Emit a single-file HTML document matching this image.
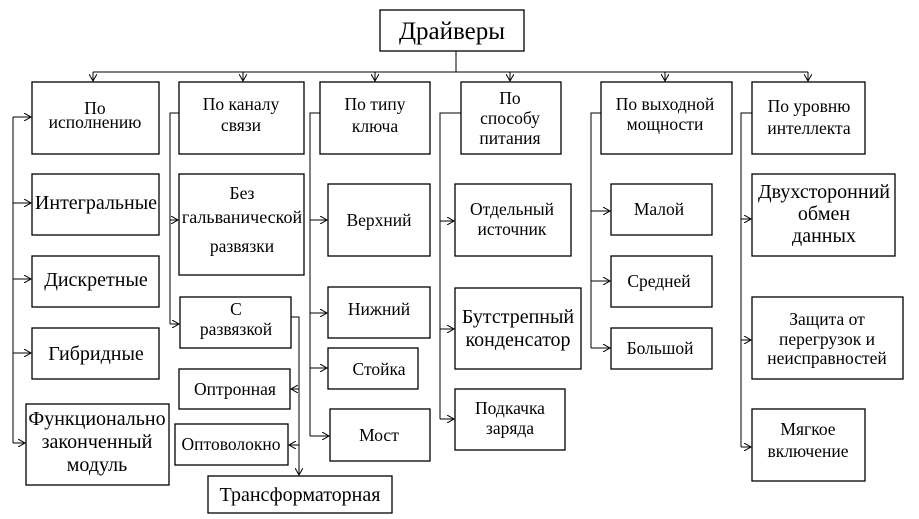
<!DOCTYPE html>
<html><head><meta charset="utf-8"><style>
html,body{margin:0;padding:0;background:#fff;}
svg{display:block;}
text{font-family:"Liberation Serif","DejaVu Serif",serif;fill:#000;text-anchor:middle;}
</style></head><body>
<svg width="919" height="519" viewBox="0 0 919 519" xmlns="http://www.w3.org/2000/svg">
<defs><marker id="a" markerWidth="8" markerHeight="8" refX="7" refY="4" orient="auto" markerUnits="userSpaceOnUse"><path d="M0,0 L7,4 L0,8" fill="none" stroke="#000" stroke-width="1"/></marker></defs>
<g fill="none" stroke="#000" stroke-width="1.3">
<rect x="380" y="10" width="144" height="41"/>
<rect x="32" y="82" width="127" height="72"/>
<rect x="179" y="82" width="125" height="72"/>
<rect x="320" y="82" width="110" height="72"/>
<rect x="461" y="82" width="100" height="72"/>
<rect x="601" y="82" width="131" height="72"/>
<rect x="752" y="82" width="113" height="72"/>
<rect x="32" y="174" width="127" height="61"/>
<rect x="32" y="256" width="127" height="51"/>
<rect x="32" y="328" width="127" height="51"/>
<rect x="26" y="404" width="143" height="81"/>
<rect x="179" y="174" width="125" height="101"/>
<rect x="180" y="297" width="111" height="51"/>
<rect x="179" y="369" width="111" height="40"/>
<rect x="175" y="424" width="113" height="41"/>
<rect x="208" y="476" width="184" height="37"/>
<rect x="328" y="184" width="102" height="72"/>
<rect x="328" y="287" width="102" height="51"/>
<rect x="328" y="348" width="90" height="41"/>
<rect x="330" y="409" width="100" height="52"/>
<rect x="455" y="184" width="116" height="72"/>
<rect x="455" y="288" width="126" height="81"/>
<rect x="455" y="389" width="110" height="61"/>
<rect x="611" y="184" width="101" height="51"/>
<rect x="611" y="256" width="101" height="51"/>
<rect x="611" y="328" width="101" height="41"/>
<rect x="752" y="174" width="143" height="82"/>
<rect x="752" y="297" width="151" height="82"/>
<rect x="752" y="409" width="113" height="72"/>
</g>
<g fill="none" stroke="#000" stroke-width="1">
<path d="M456,51 V72 M93,72 H808"/>
<path d="M93,72 V81" marker-end="url(#a)"/><path d="M243,72 V81" marker-end="url(#a)"/><path d="M375,72 V81" marker-end="url(#a)"/><path d="M510,72 V81" marker-end="url(#a)"/><path d="M665,72 V81" marker-end="url(#a)"/><path d="M808,72 V81" marker-end="url(#a)"/>
<path d="M13,117 V443"/>
<path d="M13,117 H31" marker-end="url(#a)"/><path d="M13,203 H31" marker-end="url(#a)"/><path d="M13,279 H31" marker-end="url(#a)"/><path d="M13,353 H31" marker-end="url(#a)"/><path d="M13,443 H25" marker-end="url(#a)"/>
<path d="M179,113 H170 V324"/>
<path d="M170,220 H178" marker-end="url(#a)"/><path d="M170,324 H179" marker-end="url(#a)"/>
<path d="M291,317 H299 V475" marker-end="url(#a)"/>
<path d="M299,389 H291" marker-end="url(#a)"/><path d="M299,445 H289" marker-end="url(#a)"/>
<path d="M320,113 H310 V436"/>
<path d="M310,220 H327" marker-end="url(#a)"/><path d="M310,313 H327" marker-end="url(#a)"/><path d="M310,368 H327" marker-end="url(#a)"/><path d="M310,436 H329" marker-end="url(#a)"/>
<path d="M461,113 H440 V419"/>
<path d="M440,221 H454" marker-end="url(#a)"/><path d="M440,329 H454" marker-end="url(#a)"/><path d="M440,419 H454" marker-end="url(#a)"/>
<path d="M601,113 H591 V348"/>
<path d="M591,211 H610" marker-end="url(#a)"/><path d="M591,281 H610" marker-end="url(#a)"/><path d="M591,348 H610" marker-end="url(#a)"/>
<path d="M752,113 H741 V447"/>
<path d="M741,219 H751" marker-end="url(#a)"/><path d="M741,340 H751" marker-end="url(#a)"/><path d="M741,447 H751" marker-end="url(#a)"/>
</g>
<text x="452" y="39" font-size="25">Драйверы</text>
<g font-size="17.5">
<text x="95" y="114">По</text><text x="95" y="128">исполнению</text>
<text x="241" y="110">По каналу</text><text x="241" y="131">связи</text>
<text x="375" y="110">По типу</text><text x="375" y="132">ключа</text>
<text x="510" y="104">По</text><text x="510" y="124">способу</text><text x="510" y="144">питания</text>
<text x="665" y="110">По выходной</text><text x="665" y="130">мощности</text>
<text x="809" y="112">По уровню</text><text x="809" y="134">интеллекта</text>
<text x="242" y="199">Без</text><text x="242" y="223" font-size="18">гальванической</text><text x="242" y="252">развязки</text>
<text x="236" y="315">С</text><text x="236" y="335">развязкой</text>
<text x="235" y="395">Оптронная</text>
<text x="231" y="450">Оптоволокно</text>
<text x="379" y="375">Стойка</text>
<text x="512" y="215">Отдельный</text><text x="512" y="235">источник</text>
<text x="510" y="414">Подкачка</text><text x="510" y="434">заряда</text>
<text x="659" y="287">Средней</text>
<text x="660" y="354">Большой</text>
<text x="827" y="325">Защита от</text><text x="827" y="345">перегрузок и</text><text x="827" y="364">неисправностей</text>
<text x="808" y="435">Мягкое</text><text x="808" y="457">включение</text>
<text x="379" y="226">Верхний</text>
<text x="379" y="315">Нижний</text>
<text x="379" y="441">Мост</text>
<text x="659" y="215">Малой</text>
</g>
<g font-size="20">
<text x="96" y="209">Интегральные</text>
<text x="96" y="286">Дискретные</text>
<text x="96" y="360">Гибридные</text>
<text x="97" y="425">Функционально</text><text x="97" y="448">законченный</text><text x="97" y="471">модуль</text>
<text x="300" y="501">Трансформаторная</text>
<text x="518" y="323">Бутстрепный</text><text x="518" y="346">конденсатор</text>
<text x="824" y="198">Двухсторонний</text><text x="824" y="220">обмен</text><text x="824" y="242">данных</text>
</g>
</svg>
</body></html>
